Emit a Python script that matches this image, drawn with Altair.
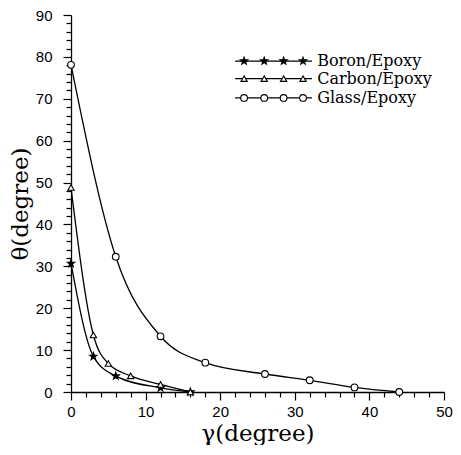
import altair as alt
import pandas as pd

# ---- data ----
gamma_boron = [0, 3, 6, 12, 16]
theta_boron = [30.7, 8.5, 3.8, 1.0, 0.0]
gamma_carbon = [0, 3, 5, 8, 12, 16]
theta_carbon = [48.8, 13.6, 6.8, 3.85, 1.8, 0.0]
gamma_glass = [0, 6, 12, 18, 26, 32, 38, 44]
theta_glass = [78.1, 32.3, 13.3, 7.0, 4.3, 2.8, 1.1, 0.0]

series_names = ["Boron/Epoxy", "Carbon/Epoxy", "Glass/Epoxy"]
x_ticks = list(range(0, 51, 2))
y_ticks = list(range(0, 91, 2))

# legend placement (data coordinates)
legend_line = [22.0, 32.3]
legend_marks = [23.2, 25.9, 28.5, 31.1]
legend_text_x = 33.0
legend_rows = [79.0, 74.8, 70.2]

STAR = ("M0,-1L0.235,-0.324L0.951,-0.309L0.380,0.124L0.588,0.809L0,0.4"
        "L-0.588,0.809L-0.380,0.124L-0.951,-0.309L-0.235,-0.324Z")
shapes = [STAR, "triangle-up", "circle"]
fills = ["black", "white", "white"]
sizes = [60, 40, 45]

FONT_T = "DejaVu Serif"
FONT_L = "Liberation Sans"

xs = alt.Scale(domain=[0, 50], nice=False)
ys = alt.Scale(domain=[0, 90], nice=False)

major_test = "datum.value % 10 === 0"


def axis(title, ticks, lpad, tpad, orient):
    return alt.Axis(
        values=ticks, title=title, grid=False,
        tickSize={"condition": {"test": major_test, "value": 8}, "value": 5},
        labelExpr="datum.value % 10 === 0 ? datum.label : ''",
        labelFont=FONT_L, labelFontSize=15, labelPadding=lpad,
        labelColor="black", titleFont=FONT_T, titleFontSize=23,
        titleFontWeight="normal", titleColor="black", titlePadding=tpad,
        domainColor="black", tickColor="black", tickWidth=1.2,
        labelFlush=False, labelOverlap=False, orient=orient)


X = alt.X("x:Q", scale=xs, axis=axis("γ(degree)", x_ticks, 4, 3, "bottom"))
Y = alt.Y("y:Q", scale=ys, axis=axis("θ(degree)", y_ticks, 11, 3, "left"))

data = [(gamma_boron, theta_boron), (gamma_carbon, theta_carbon),
        (gamma_glass, theta_glass)]

layers = []
for i, (gx, ty) in enumerate(data):
    df = pd.DataFrame({"x": gx, "y": ty})
    base = alt.Chart(df)
    layers.append(base.mark_line(interpolate="monotone", color="black",
                                 strokeWidth=1.3).encode(x=X, y=Y))
    layers.append(base.mark_point(shape=shapes[i], filled=True, fill=fills[i],
                                  stroke="black", strokeWidth=1.1,
                                  size=sizes[i], opacity=1).encode(x=X, y=Y))
    # legend
    ldf = pd.DataFrame({"x": legend_line, "y": [legend_rows[i]] * 2})
    layers.append(alt.Chart(ldf).mark_line(color="black", strokeWidth=1.3)
                  .encode(x=X, y=Y))
    mdf = pd.DataFrame({"x": legend_marks,
                        "y": [legend_rows[i]] * len(legend_marks)})
    layers.append(alt.Chart(mdf).mark_point(shape=shapes[i], filled=True,
                                            fill=fills[i], stroke="black",
                                            strokeWidth=1.1, size=sizes[i],
                                            opacity=1).encode(x=X, y=Y))
    tdf = pd.DataFrame({"x": [legend_text_x], "y": [legend_rows[i]],
                        "t": [series_names[i]]})
    layers.append(alt.Chart(tdf).mark_text(align="left", baseline="middle",
                                           font=FONT_T, fontSize=16,
                                           color="black")
                  .encode(x=X, y=Y, text="t:N"))

chart = alt.layer(*layers) \
    .properties(width=373, height=377,
                padding={"left": 1, "top": 0, "right": 0, "bottom": 0}) \
    .configure_view(stroke=None) \
    .configure_axis(domainWidth=1.3)

chart.save("out.html", embed_options={"renderer": "svg", "actions": False})
